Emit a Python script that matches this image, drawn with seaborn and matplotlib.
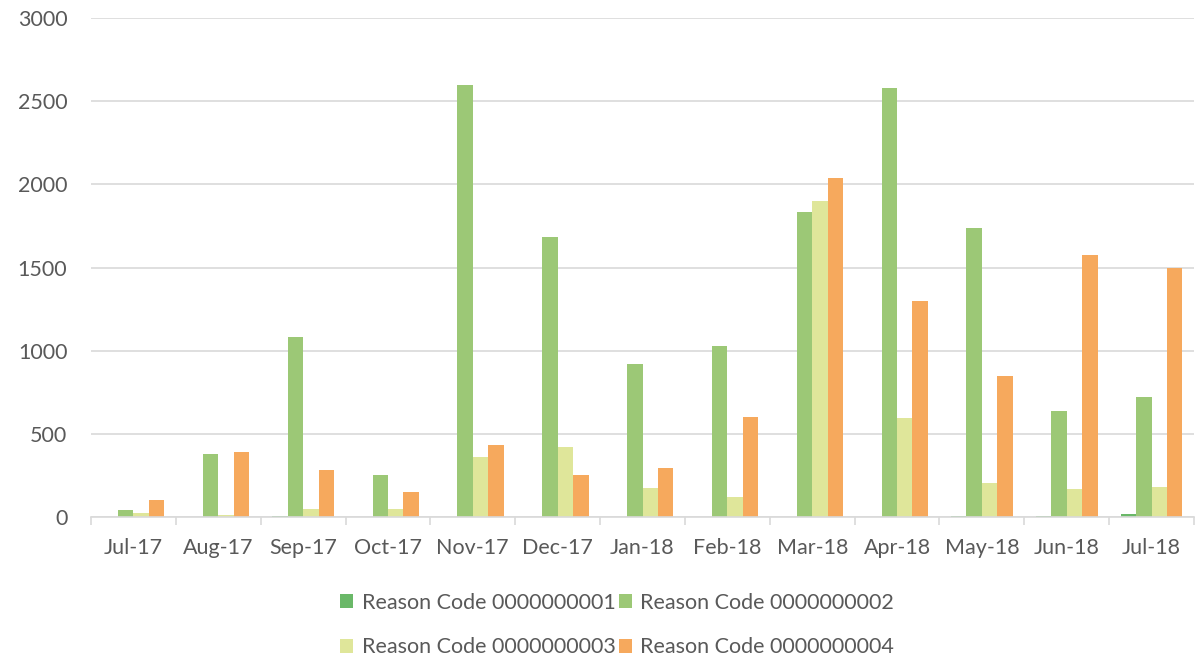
import numpy as np
import pandas as pd
import matplotlib
matplotlib.use("Agg")
import matplotlib.pyplot as plt
from matplotlib.patches import Patch
import seaborn as sns

months = ["Jul-17", "Aug-17", "Sep-17", "Oct-17", "Nov-17", "Dec-17", "Jan-18",
          "Feb-18", "Mar-18", "Apr-18", "May-18", "Jun-18", "Jul-18"]
series_names = ["Reason Code 0000000001", "Reason Code 0000000002",
                "Reason Code 0000000003", "Reason Code 0000000004"]
code1 = [0, 0, 5, 0, 0, 0, 0, 0, 0, 0, 4, 5, 16]
code2 = [40, 378, 1083, 255, 2600, 1685, 918, 1030, 1835, 2578, 1740, 640, 720]
code3 = [22, 10, 50, 48, 360, 420, 172, 122, 1898, 595, 204, 168, 182]
code4 = [102, 393, 280, 148, 432, 255, 292, 600, 2036, 1298, 848, 1575, 1495]
colors = ["#6AB868", "#9CC876", "#DFE69A", "#F6A95D"]

df = pd.DataFrame({
    "month": months * 4,
    "code": np.repeat(series_names, len(months)),
    "count": code1 + code2 + code3 + code4,
})

sns.set_theme(style="white")
plt.rcParams["font.family"] = ["Lato", "DejaVu Sans"]
text_color = "#595959"

fig = plt.figure(figsize=(11.99, 6.56), dpi=100)
ax = fig.add_axes([91 / 1199, 139 / 656, 1103 / 1199, 499 / 656])

sns.barplot(data=df, x="month", y="count", hue="code", order=months,
            hue_order=series_names, palette=colors, width=4 / 5.5,
            saturation=1, ax=ax, legend=False, linewidth=0)

ax.set_xlim(-0.5, len(months) - 0.5)
ax.set_ylim(0, 3000)
ax.set_yticks(np.arange(0, 3001, 500))
ax.yaxis.grid(True, color="#D9D9D9", linewidth=1.2)
ax.set_axisbelow(True)
ax.set_xlabel("")
ax.set_ylabel("")
for side in ["top", "right", "left"]:
    ax.spines[side].set_visible(False)
ax.spines["bottom"].set_color("#D9D9D9")
ax.spines["bottom"].set_linewidth(1.2)

ax.tick_params(axis="y", length=0, labelsize=15.5, labelcolor=text_color, pad=17)
ax.tick_params(axis="x", which="major", bottom=True, length=0, labelsize=15.5,
               labelcolor=text_color, pad=15)
ax.set_xticks(np.arange(-0.5, len(months)), minor=True)
ax.tick_params(axis="x", which="minor", bottom=True, length=6, width=1.2,
               color="#D9D9D9", direction="out")

# two rows, filled left to right
order = [0, 2, 1, 3]
handles = [Patch(facecolor=colors[i], edgecolor="none") for i in order]
labels = [series_names[i] for i in order]
leg = fig.legend(handles, labels, loc="center", ncol=2,
                 bbox_to_anchor=(617 / 1199, 1 - 625 / 656),
                 frameon=False, fontsize=15.5, handlelength=0.6,
                 handleheight=0.6, handletextpad=0.4, columnspacing=0.15,
                 labelspacing=1.15)
for t in leg.get_texts():
    t.set_color(text_color)

fig.savefig("out.png", dpi=100)
